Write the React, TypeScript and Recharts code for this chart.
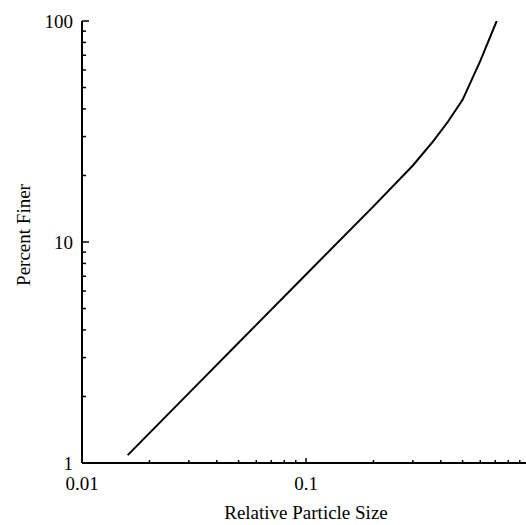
import { LineChart, Line, XAxis, YAxis, Label } from "recharts";

const sizes = [0.016, 0.03, 0.05, 0.1, 0.2, 0.3, 0.37, 0.43, 0.5, 0.6, 0.71];
const percentFiner = [1.085, 2.07, 3.5, 7.13, 14.5, 22.2, 28.6, 35, 44, 66, 100];

const xTicks = [
  0.01, 0.02, 0.03, 0.04, 0.05, 0.06, 0.07, 0.08, 0.09,
  0.1, 0.2, 0.3, 0.4, 0.5, 0.6, 0.7, 0.8, 0.9, 1,
];
const xMajor = [0.01, 0.1, 1];
const xLabels = [0.01, 0.1];
const yTicks = [1, 2, 3, 4, 5, 6, 7, 8, 9, 10, 20, 30, 40, 50, 60, 70, 80, 90, 100];
const yLabels = [1, 10, 100];

const data = sizes.map((s, i) => ({ size: s, pct: percentFiner[i] }));

const font = '"Liberation Serif", "Times New Roman", serif';

const BottomTick = (props: any) => {
  const { x, y, payload } = props;
  const major = xMajor.includes(payload.value);
  return (
    <g>
      <line x1={x} x2={x} y1={y} y2={y - (major ? 5 : 3)} stroke="#000" strokeWidth={1.5} />
      {xLabels.includes(payload.value) && (
        <text x={x} y={y + 27} textAnchor="middle" fontSize={19} fontFamily={font} fill="#000">
          {payload.value}
        </text>
      )}
    </g>
  );
};

const TopTick = (props: any) => {
  const { x, y, payload } = props;
  const major = xMajor.includes(payload.value);
  return <line x1={x} x2={x} y1={y} y2={y + (major ? 5 : 3)} stroke="#000" strokeWidth={1.5} />;
};

const LeftTick = (props: any) => {
  const { x, y, payload } = props;
  const major = yLabels.includes(payload.value);
  return (
    <g>
      <line x1={x} x2={x + (major ? 7 : 4)} y1={y} y2={y} stroke="#000" strokeWidth={1.5} />
      {major && (
        <text x={x - 9} y={y + 7} textAnchor="end" fontSize={19} fontFamily={font} fill="#000">
          {payload.value}
        </text>
      )}
    </g>
  );
};

const App = () => {
  return (
    <div
      style={{
        position: "absolute",
        left: 0,
        top: 0,
        width: 526,
        height: 525,
        overflow: "hidden",
        background: "#fff",
      }}
    >
      <LineChart width={530} height={525} data={data} margin={{ top: 21, right: 0, left: 0, bottom: 0 }}>
        <XAxis
          dataKey="size"
          type="number"
          scale="log"
          domain={[0.01, 1]}
          ticks={xTicks}
          interval={0}
          allowDataOverflow
          height={62}
          tickSize={0}
          tickMargin={0}
          tick={<BottomTick />}
          axisLine={{ stroke: "#000", strokeWidth: 2 }}
        >
          <Label
            content={() => (
              <text x={306} y={519} textAnchor="middle" fontSize={19} fontFamily={font} fill="#000">
                Relative Particle Size
              </text>
            )}
          />
        </XAxis>
        <XAxis
          xAxisId="top"
          orientation="top"
          dataKey="size"
          type="number"
          scale="log"
          domain={[0.01, 1]}
          ticks={xTicks}
          interval={0}
          allowDataOverflow
          height={0}
          tickSize={0}
          tickMargin={0}
          tick={<TopTick />}
          axisLine={{ stroke: "#000", strokeWidth: 2 }}
        />
        <YAxis
          type="number"
          scale="log"
          domain={[1, 100]}
          ticks={yTicks}
          interval={0}
          allowDataOverflow
          width={82}
          tickSize={0}
          tickMargin={0}
          tick={<LeftTick />}
          axisLine={{ stroke: "#000", strokeWidth: 2 }}
        >
          <Label
            content={() => (
              <text
                x={23}
                y={235}
                transform="rotate(-90 23 235)"
                textAnchor="middle"
                dominantBaseline="central"
                fontSize={19}
                fontFamily={font}
                fill="#000"
              >
                Percent Finer
              </text>
            )}
          />
        </YAxis>
        <Line
          dataKey="pct"
          type="linear"
          stroke="#000"
          strokeWidth={2}
          dot={false}
          isAnimationActive={false}
        />
      </LineChart>
    </div>
  );
};

export default App;
